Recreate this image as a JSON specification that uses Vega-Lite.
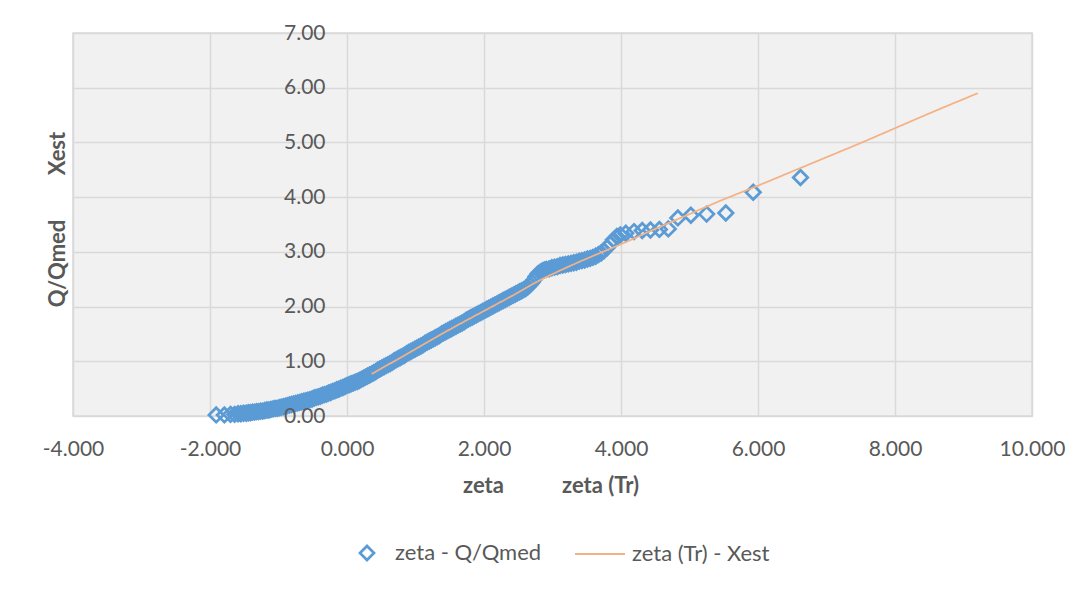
{
  "$schema": "https://vega.github.io/schema/vega-lite/v6.json",
  "width": 959,
  "height": 383,
  "autosize": {"type": "none"},
  "padding": {"left": 73, "top": 33, "right": 57, "bottom": 174},
  "background": "#ffffff",
  "config": {
    "font": "Lato",
    "view": {"fill": "#f1f1f1", "stroke": "#d9d9d9", "strokeWidth": 1.5},
    "axis": {
      "labelFont": "Lato", "labelFontSize": 21, "labelColor": "#595959",
      "titleFont": "Lato", "titleFontSize": 22, "titleColor": "#595959", "titleFontWeight": "bold",
      "gridColor": "#d9d9d9", "gridWidth": 1.5, "gridOpacity": 1,
      "domain": false, "ticks": false, "tickSize": 0, "labelFlush": false, "labelOverlap": false
    },
    "legend": {"labelFont": "Lato", "labelFontSize": 22, "labelColor": "#595959", "labelLimit": 400, "padding": 0}
  },
  "datasets": {
    "obs": [
      {"zeta": -1.91, "qq": 0.02}, {"zeta": -1.79, "qq": 0.02}, {"zeta": -1.70, "qq": 0.03}, {"zeta": -1.64, "qq": 0.03},
      {"zeta": -1.59, "qq": 0.04}, {"zeta": -1.55, "qq": 0.04}, {"zeta": -1.51, "qq": 0.05}, {"zeta": -1.47, "qq": 0.05},
      {"zeta": -1.44, "qq": 0.06}, {"zeta": -1.41, "qq": 0.06}, {"zeta": -1.38, "qq": 0.07}, {"zeta": -1.35, "qq": 0.07},
      {"zeta": -1.32, "qq": 0.08}, {"zeta": -1.29, "qq": 0.08}, {"zeta": -1.26, "qq": 0.09}, {"zeta": -1.23, "qq": 0.09},
      {"zeta": -1.20, "qq": 0.10}, {"zeta": -1.17, "qq": 0.11}, {"zeta": -1.14, "qq": 0.11}, {"zeta": -1.11, "qq": 0.12},
      {"zeta": -1.08, "qq": 0.13}, {"zeta": -1.05, "qq": 0.14}, {"zeta": -1.02, "qq": 0.14}, {"zeta": -0.99, "qq": 0.15},
      {"zeta": -0.96, "qq": 0.16}, {"zeta": -0.93, "qq": 0.17}, {"zeta": -0.90, "qq": 0.18}, {"zeta": -0.87, "qq": 0.19},
      {"zeta": -0.84, "qq": 0.20}, {"zeta": -0.81, "qq": 0.21}, {"zeta": -0.78, "qq": 0.22}, {"zeta": -0.75, "qq": 0.23},
      {"zeta": -0.72, "qq": 0.24}, {"zeta": -0.69, "qq": 0.25}, {"zeta": -0.66, "qq": 0.26}, {"zeta": -0.63, "qq": 0.27},
      {"zeta": -0.60, "qq": 0.28}, {"zeta": -0.57, "qq": 0.29}, {"zeta": -0.54, "qq": 0.30}, {"zeta": -0.51, "qq": 0.31},
      {"zeta": -0.48, "qq": 0.33}, {"zeta": -0.45, "qq": 0.34}, {"zeta": -0.42, "qq": 0.35}, {"zeta": -0.39, "qq": 0.36},
      {"zeta": -0.36, "qq": 0.38}, {"zeta": -0.33, "qq": 0.39}, {"zeta": -0.30, "qq": 0.40}, {"zeta": -0.27, "qq": 0.42},
      {"zeta": -0.24, "qq": 0.43}, {"zeta": -0.21, "qq": 0.45}, {"zeta": -0.18, "qq": 0.46}, {"zeta": -0.15, "qq": 0.48},
      {"zeta": -0.12, "qq": 0.49}, {"zeta": -0.09, "qq": 0.51}, {"zeta": -0.06, "qq": 0.52}, {"zeta": -0.03, "qq": 0.54},
      {"zeta": 0.00, "qq": 0.56}, {"zeta": 0.03, "qq": 0.57}, {"zeta": 0.06, "qq": 0.59}, {"zeta": 0.09, "qq": 0.60},
      {"zeta": 0.12, "qq": 0.62}, {"zeta": 0.15, "qq": 0.63}, {"zeta": 0.18, "qq": 0.65}, {"zeta": 0.21, "qq": 0.67},
      {"zeta": 0.24, "qq": 0.69}, {"zeta": 0.27, "qq": 0.71}, {"zeta": 0.30, "qq": 0.73}, {"zeta": 0.33, "qq": 0.75},
      {"zeta": 0.36, "qq": 0.77}, {"zeta": 0.39, "qq": 0.79}, {"zeta": 0.42, "qq": 0.81}, {"zeta": 0.45, "qq": 0.84},
      {"zeta": 0.48, "qq": 0.86}, {"zeta": 0.51, "qq": 0.88}, {"zeta": 0.54, "qq": 0.90}, {"zeta": 0.57, "qq": 0.92},
      {"zeta": 0.60, "qq": 0.94}, {"zeta": 0.63, "qq": 0.96}, {"zeta": 0.66, "qq": 0.98}, {"zeta": 0.69, "qq": 1.01},
      {"zeta": 0.72, "qq": 1.03}, {"zeta": 0.75, "qq": 1.05}, {"zeta": 0.78, "qq": 1.07}, {"zeta": 0.81, "qq": 1.09},
      {"zeta": 0.84, "qq": 1.11}, {"zeta": 0.87, "qq": 1.14}, {"zeta": 0.90, "qq": 1.16}, {"zeta": 0.93, "qq": 1.18},
      {"zeta": 0.96, "qq": 1.20}, {"zeta": 0.99, "qq": 1.22}, {"zeta": 1.02, "qq": 1.24}, {"zeta": 1.05, "qq": 1.26},
      {"zeta": 1.08, "qq": 1.28}, {"zeta": 1.11, "qq": 1.30}, {"zeta": 1.14, "qq": 1.33}, {"zeta": 1.17, "qq": 1.35},
      {"zeta": 1.20, "qq": 1.37}, {"zeta": 1.23, "qq": 1.39}, {"zeta": 1.26, "qq": 1.41}, {"zeta": 1.29, "qq": 1.43},
      {"zeta": 1.32, "qq": 1.45}, {"zeta": 1.35, "qq": 1.47}, {"zeta": 1.38, "qq": 1.50}, {"zeta": 1.41, "qq": 1.52},
      {"zeta": 1.44, "qq": 1.54}, {"zeta": 1.47, "qq": 1.56}, {"zeta": 1.50, "qq": 1.58}, {"zeta": 1.53, "qq": 1.60},
      {"zeta": 1.56, "qq": 1.62}, {"zeta": 1.59, "qq": 1.64}, {"zeta": 1.62, "qq": 1.66}, {"zeta": 1.65, "qq": 1.68},
      {"zeta": 1.68, "qq": 1.70}, {"zeta": 1.71, "qq": 1.72}, {"zeta": 1.74, "qq": 1.75}, {"zeta": 1.77, "qq": 1.77},
      {"zeta": 1.80, "qq": 1.79}, {"zeta": 1.83, "qq": 1.81}, {"zeta": 1.86, "qq": 1.83}, {"zeta": 1.89, "qq": 1.85},
      {"zeta": 1.92, "qq": 1.87}, {"zeta": 1.95, "qq": 1.89}, {"zeta": 1.98, "qq": 1.91}, {"zeta": 2.01, "qq": 1.93},
      {"zeta": 2.04, "qq": 1.95}, {"zeta": 2.07, "qq": 1.97}, {"zeta": 2.10, "qq": 1.99}, {"zeta": 2.13, "qq": 2.01},
      {"zeta": 2.16, "qq": 2.03}, {"zeta": 2.19, "qq": 2.05}, {"zeta": 2.22, "qq": 2.07}, {"zeta": 2.25, "qq": 2.09},
      {"zeta": 2.28, "qq": 2.11}, {"zeta": 2.31, "qq": 2.13}, {"zeta": 2.34, "qq": 2.15}, {"zeta": 2.37, "qq": 2.17},
      {"zeta": 2.40, "qq": 2.19}, {"zeta": 2.43, "qq": 2.21}, {"zeta": 2.46, "qq": 2.23}, {"zeta": 2.49, "qq": 2.25},
      {"zeta": 2.52, "qq": 2.27}, {"zeta": 2.55, "qq": 2.29}, {"zeta": 2.58, "qq": 2.31}, {"zeta": 2.61, "qq": 2.33},
      {"zeta": 2.64, "qq": 2.36}, {"zeta": 2.67, "qq": 2.40}, {"zeta": 2.70, "qq": 2.44}, {"zeta": 2.73, "qq": 2.49},
      {"zeta": 2.76, "qq": 2.55}, {"zeta": 2.79, "qq": 2.60}, {"zeta": 2.82, "qq": 2.63}, {"zeta": 2.85, "qq": 2.65},
      {"zeta": 2.88, "qq": 2.67}, {"zeta": 2.91, "qq": 2.68}, {"zeta": 2.95, "qq": 2.69}, {"zeta": 2.99, "qq": 2.71},
      {"zeta": 3.03, "qq": 2.72}, {"zeta": 3.07, "qq": 2.73}, {"zeta": 3.11, "qq": 2.75}, {"zeta": 3.15, "qq": 2.76},
      {"zeta": 3.19, "qq": 2.77}, {"zeta": 3.23, "qq": 2.78}, {"zeta": 3.27, "qq": 2.79}, {"zeta": 3.31, "qq": 2.80},
      {"zeta": 3.35, "qq": 2.81}, {"zeta": 3.39, "qq": 2.83}, {"zeta": 3.43, "qq": 2.84}, {"zeta": 3.47, "qq": 2.85},
      {"zeta": 3.51, "qq": 2.87}, {"zeta": 3.55, "qq": 2.88}, {"zeta": 3.59, "qq": 2.90}, {"zeta": 3.63, "qq": 2.92},
      {"zeta": 3.67, "qq": 2.95}, {"zeta": 3.71, "qq": 2.98}, {"zeta": 3.75, "qq": 3.02}, {"zeta": 3.80, "qq": 3.08},
      {"zeta": 3.85, "qq": 3.15}, {"zeta": 3.89, "qq": 3.22}, {"zeta": 3.94, "qq": 3.28}, {"zeta": 3.99, "qq": 3.31},
      {"zeta": 4.07, "qq": 3.34}, {"zeta": 4.19, "qq": 3.37}, {"zeta": 4.31, "qq": 3.39}, {"zeta": 4.43, "qq": 3.40},
      {"zeta": 4.56, "qq": 3.41}, {"zeta": 4.69, "qq": 3.42}, {"zeta": 4.83, "qq": 3.62}, {"zeta": 5.02, "qq": 3.67},
      {"zeta": 5.25, "qq": 3.69}, {"zeta": 5.53, "qq": 3.71}, {"zeta": 5.93, "qq": 4.09}, {"zeta": 6.62, "qq": 4.36}
    ],
    "est": [
      {"ztr": 0.36, "xest": 0.77}, {"ztr": 0.8, "xest": 1.08}, {"ztr": 1.2, "xest": 1.37}, {"ztr": 1.6, "xest": 1.65},
      {"ztr": 2.0, "xest": 1.92}, {"ztr": 2.4, "xest": 2.19}, {"ztr": 2.8, "xest": 2.47}, {"ztr": 3.2, "xest": 2.71},
      {"ztr": 3.6, "xest": 2.93}, {"ztr": 4.0, "xest": 3.14}, {"ztr": 4.5, "xest": 3.42}, {"ztr": 5.0, "xest": 3.69},
      {"ztr": 5.5, "xest": 3.96}, {"ztr": 6.0, "xest": 4.21}, {"ztr": 6.5, "xest": 4.47}, {"ztr": 7.0, "xest": 4.73},
      {"ztr": 7.5, "xest": 4.99}, {"ztr": 8.0, "xest": 5.26}, {"ztr": 8.5, "xest": 5.53}, {"ztr": 9.21, "xest": 5.90}
    ]
  },
  "resolve": {"axis": {"x": "independent", "y": "independent"}},
  "layer": [
    {
      "data": {"name": "obs"},
      "mark": {"type": "point", "shape": "diamond", "filled": false, "size": 210, "strokeWidth": 2.75, "opacity": 1, "color": "#5b9bd5"},
      "encoding": {
        "x": {
          "field": "zeta", "type": "quantitative",
          "scale": {"domain": [-4, 10], "nice": false, "zero": false},
          "axis": {"orient": "bottom", "grid": true, "labels": false, "values": [-4, -2, 0, 2, 4, 6, 8, 10],
                   "title": "zeta", "titleX": 410, "titleY": 69, "titleAngle": 0, "titleBaseline": "middle", "titleAlign": "center", "zindex": 0}
        },
        "y": {
          "field": "qq", "type": "quantitative",
          "scale": {"domain": [0, 7], "nice": false, "zero": false},
          "axis": {"orient": "left", "grid": true, "labels": false, "values": [0, 1, 2, 3, 4, 5, 6, 7],
                   "title": "Q/Qmed", "titleX": -16, "titleY": 230, "titleAngle": 270, "titleBaseline": "middle", "titleAlign": "center", "zindex": 0}
        },
        "shape": {
          "datum": "zeta - Q/Qmed", "type": "nominal",
          "scale": {"domain": ["zeta - Q/Qmed"], "range": ["diamond"]},
          "legend": {
            "title": null, "orient": "none", "legendX": 283, "legendY": 509,
            "symbolSize": 196, "symbolStrokeWidth": 2.75, "symbolStrokeColor": "#5b9bd5", "symbolFillColor": "transparent",
            "labelOffset": 17
          }
        }
      }
    },
    {
      "data": {"name": "est"},
      "mark": {"type": "line", "strokeWidth": 1.75, "interpolate": "monotone", "color": "#f4b183"},
      "encoding": {
        "x": {
          "field": "ztr", "type": "quantitative",
          "axis": {"orient": "bottom", "grid": false, "labels": true, "format": ".3f", "labelExpr": "replace(datum.label, '\u2212', '-')",
                   "values": [-4, -2, 0, 2, 4, 6, 8, 10],
                   "labelPadding": 22, "title": "zeta (Tr)", "titleX": 527, "titleY": 69, "titleAngle": 0, "titleBaseline": "middle", "titleAlign": "center", "zindex": 1}
        },
        "y": {
          "field": "xest", "type": "quantitative",
          "axis": {"orient": "left", "offset": -274, "grid": false, "labels": true, "format": ".2f", "values": [0, 1, 2, 3, 4, 5, 6, 7],
                   "labelPadding": 22, "title": "Xest", "titleX": -290, "titleY": 120, "titleAngle": 270, "titleBaseline": "middle", "titleAlign": "center", "zindex": 1}
        },
        "strokeDash": {
          "datum": "zeta (Tr) - Xest", "type": "nominal",
          "scale": {"domain": ["zeta (Tr) - Xest"], "range": [[1, 0]]},
          "legend": {
            "title": null, "orient": "none", "legendX": 501, "legendY": 495,
            "symbolType": "stroke", "symbolSize": 2500, "symbolStrokeWidth": 2, "symbolStrokeColor": "#f4b183",
            "labelOffset": 6
          }
        }
      }
    }
  ]
}
